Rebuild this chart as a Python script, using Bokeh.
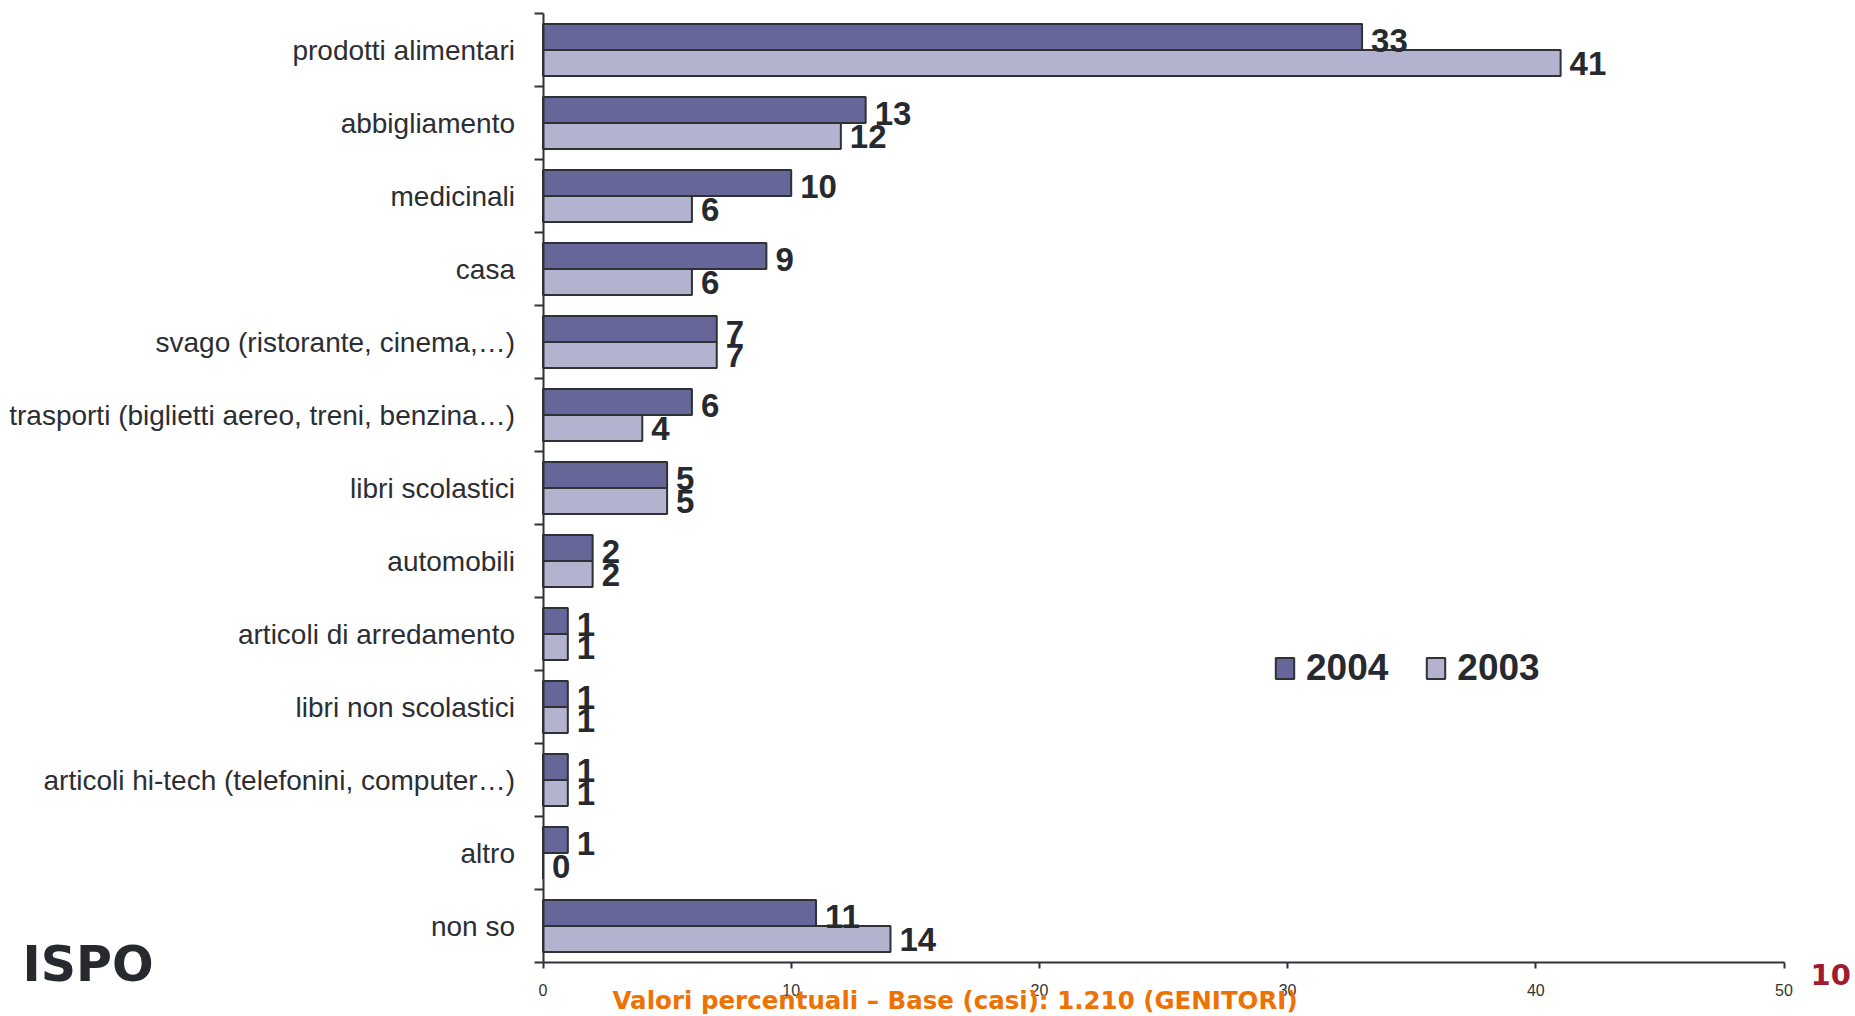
from bokeh.plotting import figure
from bokeh.models import FixedTicker, Legend, LegendItem, Label, ColumnDataSource, Range1d
from bokeh.embed import file_html
from bokeh.resources import INLINE
from bokeh.core.properties import value

categories = [
    "prodotti alimentari",
    "abbigliamento",
    "medicinali",
    "casa",
    "svago (ristorante, cinema,…)",
    "trasporti (biglietti aereo, treni, benzina…)",
    "libri scolastici",
    "automobili",
    "articoli di arredamento",
    "libri non scolastici",
    "articoli hi-tech (telefonini, computer…)",
    "altro",
    "non so",
]
v2004 = [33, 13, 10, 9, 7, 6, 5, 2, 1, 1, 1, 1, 11]
v2003 = [41, 12, 6, 6, 7, 4, 5, 2, 1, 1, 1, 0, 14]
series_names = ["2004", "2003"]
x_ticks = [0, 10, 20, 30, 40, 50]
x_min, x_max = 0, 50

DARK = "#666699"
LIGHT = "#B3B3CF"
EDGE = "#2e3135"
TXT = "#262a2e"

W, H = 1855, 1016
# plot area in page pixels
F_LEFT, F_RIGHT, F_TOP, F_BOTTOM = 542.5, 1783.5, 13.0, 962.0

n = len(categories)
ypos = [n - 1 - i for i in range(n)]  # top category highest
y_lo, y_hi = -0.5, n - 0.5
off = 0.178
bh = 0.356

# ranges span the whole canvas; axes are pinned to the plot area
kx = (F_RIGHT - F_LEFT) / (x_max - x_min)
ky = (F_BOTTOM - F_TOP) / (y_hi - y_lo)
xr = Range1d(x_min - F_LEFT / kx, x_max + (W - F_RIGHT) / kx)
yr = Range1d(y_lo - (H - F_BOTTOM) / ky, y_hi + F_TOP / ky)

def px_x(px):
    return x_min + (px - F_LEFT) / kx

def px_y(py):
    return y_lo - (py - F_BOTTOM) / ky

src = ColumnDataSource(dict(
    cat=categories,
    y04=[y + off for y in ypos],
    y03=[y - off for y in ypos],
    v04=v2004,
    v03=v2003,
    t04=[str(v) for v in v2004],
    t03=[str(v) for v in v2003],
))

p = figure(width=W, height=H, output_backend="svg", toolbar_location=None,
           x_range=xr, y_range=yr,
           min_border_left=0, min_border_right=0, min_border_top=0, min_border_bottom=0)
p.title.visible = False
p.outline_line_color = None
p.xgrid.visible = False
p.ygrid.visible = False
p.background_fill_color = "white"
p.border_fill_color = "white"

r04 = p.hbar(y="y04", left=0, right="v04", height=bh, source=src,
             fill_color=DARK, line_color=EDGE, line_width=2)
r03 = p.hbar(y="y03", left=0, right="v03", height=bh, source=src,
             fill_color=LIGHT, line_color=EDGE, line_width=2)

p.text(x="v04", y="y04", text="t04", source=src, x_offset=9, y_offset=3,
       text_font=value("Liberation Sans"), text_font_style="bold", text_font_size="33px",
       text_color=TXT, text_baseline="middle", text_align="left")
p.text(x="v03", y="y03", text="t03", source=src, x_offset=9, y_offset=1,
       text_font=value("Liberation Sans"), text_font_style="bold", text_font_size="33px",
       text_color=TXT, text_baseline="middle", text_align="left")

# y axis
ya = p.yaxis[0]
ya.fixed_location = x_min
ya.bounds = (y_lo, y_hi)
ya.ticker = FixedTicker(ticks=ypos, minor_ticks=[y + 0.5 for y in range(-1, n)])
ya.major_label_overrides = {y: c for y, c in zip(ypos, categories)}
ya.major_tick_out = 0
ya.major_tick_in = 0
ya.minor_tick_out = 9
ya.minor_tick_in = 0
ya.minor_tick_line_color = EDGE
ya.minor_tick_line_width = 2
ya.axis_line_color = EDGE
ya.axis_line_width = 2
ya.major_label_standoff = 19
ya.major_label_text_font = "Liberation Sans"
ya.major_label_text_font_size = "28px"
ya.major_label_text_color = "#2b2e33"

# x axis
xa = p.xaxis[0]
xa.fixed_location = y_lo
xa.bounds = (x_min, x_max)
xa.ticker = FixedTicker(ticks=x_ticks, minor_ticks=[])
xa.major_tick_out = 6
xa.major_tick_in = 0
xa.major_tick_line_color = EDGE
xa.major_tick_line_width = 2
xa.axis_line_color = EDGE
xa.axis_line_width = 2
xa.major_label_standoff = 15
xa.major_label_text_font = "Liberation Sans"
xa.major_label_text_font_size = "16px"
xa.major_label_text_color = "#333333"

legend = Legend(items=[LegendItem(label=series_names[0], renderers=[r04]),
                       LegendItem(label=series_names[1], renderers=[r03])],
                orientation="horizontal", location=(1273, 327),
                glyph_width=23, glyph_height=26, label_standoff=10, spacing=36,
                padding=0, margin=0, border_line_alpha=0, background_fill_alpha=0,
                label_text_font="Liberation Sans", label_text_font_style="bold",
                label_text_font_size="37px", label_text_color=TXT)
p.add_layout(legend, "center")

p.add_layout(Label(x=px_x(22), y=px_y(964), text="ISPO",
                   text_font="DejaVu Sans", text_font_style="bold", text_font_size="49px",
                   text_color=TXT, text_baseline="alphabetic"))
p.add_layout(Label(x=px_x(1810), y=px_y(974), text="10",
                   text_font="DejaVu Sans", text_font_style="bold", text_font_size="29px",
                   text_color="#9E1B32", text_baseline="alphabetic"))
p.add_layout(Label(x=px_x(612), y=px_y(1000),
                   text="Valori percentuali – Base (casi): 1.210 (GENITORI)",
                   text_font="DejaVu Sans", text_font_style="bold", text_font_size="24.5px",
                   text_color="#EE7203", text_baseline="alphabetic"))

open("out.html", "w").write(file_html(p, INLINE))
